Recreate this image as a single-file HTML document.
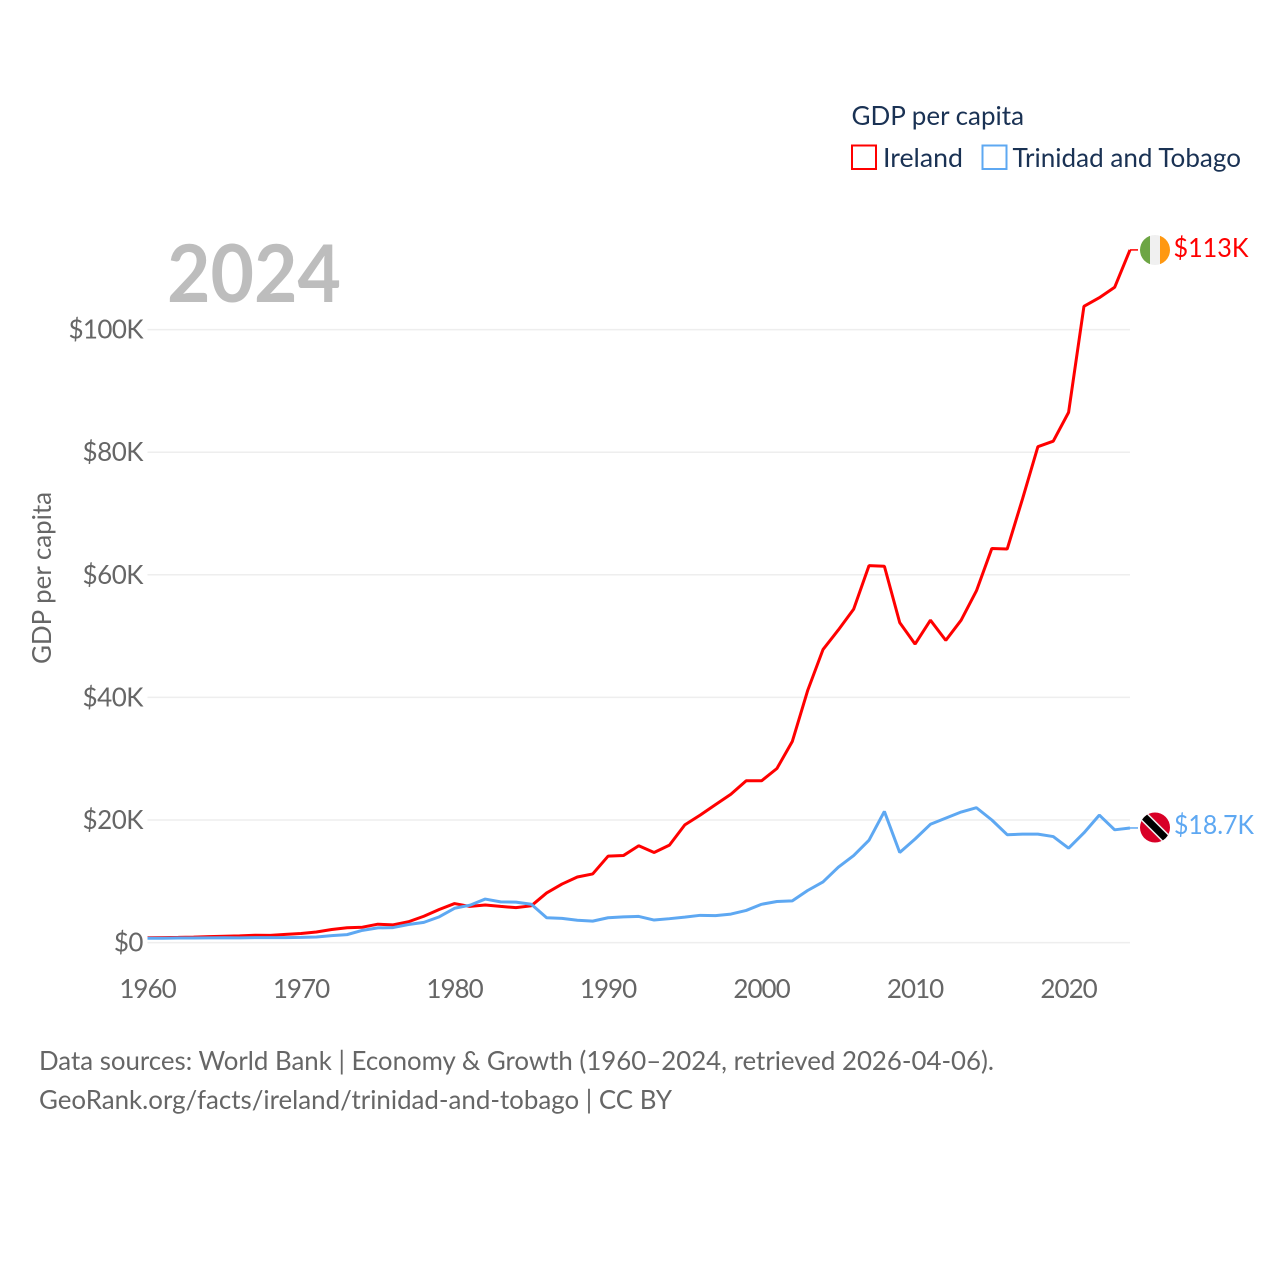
<!DOCTYPE html>
<html lang="en">
<head>
<meta charset="utf-8">
<title>GDP per capita: Ireland and Trinidad and Tobago</title>
<style>
html,body{margin:0;padding:0;background:#fff;width:1280px;height:1280px;overflow:hidden}
svg{display:block}
text{font-family:"Lato","Carlito","Liberation Sans",sans-serif}
</style>
</head>
<body>
<svg id="chart" xmlns="http://www.w3.org/2000/svg" width="1280" height="1280" viewBox="0 0 1280 1280">
  <rect width="1280" height="1280" fill="#fff"/>
  <g id="grid"></g>
  <g id="yticks"></g>
  <g id="xticks"></g>
  <text x="167" y="302" font-size="80" font-weight="700" fill="#bdbdbd" textLength="174" lengthAdjust="spacingAndGlyphs">2024</text>
  <text transform="translate(51,578) rotate(-90)" text-anchor="middle" font-size="26" fill="#666" textLength="172" lengthAdjust="spacingAndGlyphs">GDP per capita</text>
  <g id="series"></g>

  <g>
    <clipPath id="clip-ie"><circle cx="1155" cy="250" r="15"/></clipPath>
    <g clip-path="url(#clip-ie)">
      <rect x="1140" y="235" width="10" height="30" fill="#6da544"/>
      <rect x="1150" y="235" width="10" height="30" fill="#f0f0f0"/>
      <rect x="1160" y="235" width="10" height="30" fill="#ff9811"/>
    </g>
  </g>
  <g>
    <clipPath id="clip-tt"><circle cx="1155" cy="827.5" r="15"/></clipPath>
    <g clip-path="url(#clip-tt)">
      <rect x="1140" y="812.5" width="30" height="30" fill="#d80027"/>
      <line x1="1142" y1="814.5" x2="1168" y2="840.5" stroke="#f0f0f0" stroke-width="10"/>
      <line x1="1142" y1="814.5" x2="1168" y2="840.5" stroke="#000" stroke-width="7"/>
    </g>
  </g>
  <text x="1173.5" y="257" font-size="26" fill="#ff0000" textLength="75" lengthAdjust="spacingAndGlyphs">$113K</text>
  <text x="1174" y="834" font-size="26" fill="#5ea8f2" textLength="80" lengthAdjust="spacingAndGlyphs">$18.7K</text>

  <g>
    <text x="851.5" y="125" font-size="26" fill="#1a3254" textLength="172.5" lengthAdjust="spacingAndGlyphs">GDP per capita</text>
    <g>
      <rect x="852" y="145.5" width="24" height="23.5" fill="#fff" stroke="#ff0000" stroke-width="2"/>
      <text x="883" y="167" font-size="26" fill="#1a3254" textLength="80" lengthAdjust="spacingAndGlyphs">Ireland</text>
    </g>
    <g>
      <rect x="982.5" y="145.5" width="24" height="23.5" fill="#fff" stroke="#5ea8f2" stroke-width="2"/>
      <text x="1012.5" y="167" font-size="26" fill="#1a3254" textLength="228.5" lengthAdjust="spacingAndGlyphs">Trinidad and Tobago</text>
    </g>
  </g>

  <text x="39" y="1070" font-size="26" fill="#666" textLength="955" lengthAdjust="spacingAndGlyphs">Data sources: World Bank | Economy &amp; Growth (1960–2024, retrieved 2026-04-06).</text>
  <text x="39" y="1109" font-size="26" fill="#666" textLength="633" lengthAdjust="spacingAndGlyphs">GeoRank.org/facts/ireland/trinidad-and-tobago | CC BY</text>
</svg>
<script>
var startYear = 1960;
var endYear = 2024;
var xTickYears = [1960, 1970, 1980, 1990, 2000, 2010, 2020];
var yTickValues = [0, 20000, 40000, 60000, 80000, 100000];
var yTickLabels = ["$0", "$20K", "$40K", "$60K", "$80K", "$100K"];
var irelandValues = [790, 820, 850, 890, 970, 1040, 1100, 1190, 1180, 1340,
  1490, 1730, 2130, 2430, 2510, 3000, 2900, 3400, 4300, 5400,
  6370, 5900, 6130, 5900, 5700, 6000, 8100, 9550, 10700, 11200,
  14100, 14200, 15800, 14700, 15900, 19200, 20800, 22500, 24200, 26400,
  26400, 28400, 32800, 41100, 47800, 51000, 54400, 61500, 61400, 52200,
  48700, 52600, 49300, 52600, 57400, 64300, 64200, 72400, 80900, 81800,
  86500, 103800, 105200, 106900, 113000];
var trinidadValues = [700, 720, 740, 760, 780, 790, 770, 810, 820, 810,
  860, 920, 1130, 1300, 2000, 2400, 2450, 2950, 3300, 4200,
  5600, 6100, 7100, 6650, 6600, 6250, 4050, 3950, 3650, 3500,
  4050, 4200, 4270, 3680, 3900, 4150, 4450, 4400, 4650, 5250,
  6250, 6700, 6800, 8500, 9900, 12300, 14200, 16700, 21400, 14700,
  16900, 19300, 20300, 21300, 22000, 20000, 17600, 17700, 17700, 17300,
  15400, 17900, 20800, 18400, 18700];

var NS = "http://www.w3.org/2000/svg";
function xScale(year) { return 147.5 + (year - startYear) * (1130 - 147.5) / (endYear - startYear); }
function yScale(v) { return 942.6 - v * (942.6 - 329.6) / 100000; }
function make(tag, parent) {
  var el = document.createElementNS(NS, tag);
  document.getElementById(parent).appendChild(el);
  return el;
}
function tighten(el, str) {
  var digits = str.replace(/[^0-9]/g, "").length;
  el.style.letterSpacing = (-digits / str.length) + "px";
}

yTickValues.forEach(function (v, i) {
  var line = make("line", "grid");
  
  
  line.setAttribute("x1", 147.5);
  line.setAttribute("x2", 1130);
  line.setAttribute("y1", yScale(v));
  line.setAttribute("y2", yScale(v));
  line.setAttribute("stroke", "#eeeeee");
  line.setAttribute("stroke-width", 1.5);
  var t = make("text", "yticks");
  
  
  t.setAttribute("x", 143);
  t.setAttribute("y", yScale(v) + 9);
  t.setAttribute("text-anchor", "end");
  t.setAttribute("font-size", 26);
  t.setAttribute("fill", "#666");
  t.textContent = yTickLabels[i];
  tighten(t, yTickLabels[i]);
});

xTickYears.forEach(function (year) {
  var t = make("text", "xticks");
  
  
  t.setAttribute("x", xScale(year));
  t.setAttribute("y", 998);
  t.setAttribute("text-anchor", "middle");
  t.setAttribute("font-size", 26);
  t.setAttribute("fill", "#666");
  t.textContent = String(year);
  tighten(t, String(year));
});

function drawSeries(values, color, name) {
  var pts = values.map(function (v, i) {
    return xScale(startYear + i).toFixed(2) + "," + yScale(v).toFixed(2);
  });
  var line = make("polyline", "series");
  
  
  line.setAttribute("points", pts.join(" "));
  line.setAttribute("fill", "none");
  line.setAttribute("stroke", color);
  line.setAttribute("stroke-width", 3);
  line.setAttribute("stroke-linejoin", "bevel");
  var last = yScale(values[values.length - 1]);
  var link = make("line", "series");
  
  
  link.setAttribute("x1", xScale(endYear));
  link.setAttribute("x2", xScale(endYear) + 8);
  link.setAttribute("y1", last);
  link.setAttribute("y2", last);
  link.setAttribute("stroke", color);
  link.setAttribute("stroke-width", 1.5);
}
drawSeries(irelandValues, "#ff0000", "ireland-line");
drawSeries(trinidadValues, "#5ea8f2", "trinidad-line");
</script>
</body>
</html>
